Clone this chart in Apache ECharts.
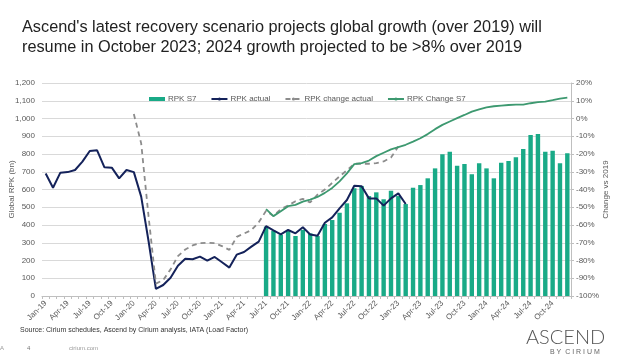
<!DOCTYPE html>
<html>
<head>
<meta charset="utf-8">
<script src="https://cdn.jsdelivr.net/npm/echarts@6/dist/echarts.min.js"></script>
<style>
html,body{margin:0;padding:0;background:#fff;}
#chart{width:624px;height:363px;}
</style>
</head>
<body>
<div id="chart"></div>
<script>
var months = ['Jan-19','Feb-19','Mar-19','Apr-19','May-19','Jun-19','Jul-19','Aug-19','Sep-19','Oct-19','Nov-19','Dec-19',
'Jan-20','Feb-20','Mar-20','Apr-20','May-20','Jun-20','Jul-20','Aug-20','Sep-20','Oct-20','Nov-20','Dec-20',
'Jan-21','Feb-21','Mar-21','Apr-21','May-21','Jun-21','Jul-21','Aug-21','Sep-21','Oct-21','Nov-21','Dec-21',
'Jan-22','Feb-22','Mar-22','Apr-22','May-22','Jun-22','Jul-22','Aug-22','Sep-22','Oct-22','Nov-22','Dec-22',
'Jan-23','Feb-23','Mar-23','Apr-23','May-23','Jun-23','Jul-23','Aug-23','Sep-23','Oct-23','Nov-23','Dec-23',
'Jan-24','Feb-24','Mar-24','Apr-24','May-24','Jun-24','Jul-24','Aug-24','Sep-24','Oct-24','Nov-24','Dec-24'];

// RPK actual (bn), Jan-19 .. Feb-23
var rpkActual = [690,610,695,698,710,757,817,821,725,723,663,710,
698,560,310,40,62,103,171,210,207,222,199,220,
190,160,233,248,278,306,394,370,347,372,353,387,
347,340,413,443,494,541,621,618,550,550,509,550,
578,518];

// RPK S7 scenario (bn), Jul-21 .. Dec-24
var rpkS7Start = 'Jul-21';
var rpkS7 = [391,368,345,368,338,373,353,338,406,428,469,522,
607,620,563,584,545,593,563,518,610,625,663,719,
798,813,734,744,686,748,719,663,751,761,781,828,
907,913,813,819,748,804];

// RPK change actual (% vs 2019), Jan-20 .. Jan-23
var changeActualStart = 'Jan-20';
var changeActual = [2.5,-14,-55,-93,-91,-85,-77.5,-73.8,-71.5,-70.2,-70,-70.2,
-71.9,-74,-66.7,-64.8,-62.9,-58.5,-52,-55,-51,-49,-46.6,-45.3,
-47.3,-42.9,-40,-36.3,-32.6,-29.2,-25.5,-25.5,-25.5,-25.1,-24.2,-22,
-15.8];

// RPK change S7 (% vs 2019), Jul-21 .. Dec-24
var changeS7Start = 'Jul-21';
var changeS7 = [-51,-55,-52.3,-49.4,-48.7,-46.8,-45.7,-44.2,-41.9,-39.1,-35.4,-30.9,
-25.7,-25.1,-23.7,-21.2,-19.3,-17.4,-16.1,-14.8,-13,-11.1,-8.8,-6,
-3.6,-1.7,0.2,2,3.9,5.2,6.3,6.9,7.3,7.6,7.8,7.8,
8.6,9.2,9.5,10.3,11.2,11.8];

function pad(start, arr){
  var out = [];
  var s = months.indexOf(start);
  for (var i = 0; i < s; i++) out.push(null);
  return out.concat(arr);
}

var FONT = 'Liberation Sans, Arial, sans-serif';
var chart = echarts.init(document.getElementById('chart'), null, {renderer:'canvas'});
chart.setOption({
  animation:false,
  backgroundColor:'#fff',
  title:{
    text:"Ascend's latest recovery scenario projects global growth (over 2019) will\nresume in October 2023; 2024 growth projected to be >8% over 2019",
    left:17, top:13,
    textStyle:{fontFamily:FONT, fontSize:16.3, fontWeight:'normal', color:'#222', lineHeight:20}
  },
  legend:{
    left:144, top:90,
    itemWidth:16, itemHeight:4, itemGap:14,
    textStyle:{fontFamily:FONT, fontSize:8, color:'#595959', padding:[0,0,0,-2]},
    data:[
      {name:'RPK S7', icon:'rect'},
      {name:'RPK actual'},
      {name:'RPK change actual'},
      {name:'RPK Change S7'}
    ]
  },
  grid:{left:42, right:53, top:83, bottom:67, containLabel:false, outerBoundsMode:'none'},
  xAxis:{
    type:'category', data:months, boundaryGap:true,
    axisLine:{lineStyle:{color:'#bfbfbf'}},
    axisTick:{show:true, interval:0, length:3, lineStyle:{color:'#bfbfbf'}},
    axisLabel:{interval:2, rotate:45, fontFamily:FONT, fontSize:8, color:'#595959', margin:6}
  },
  yAxis:[{
    type:'value', min:0, max:1200, interval:100,
    name:'Global RPK (bn)', nameLocation:'middle', nameGap:26, nameRotate:90, nameMoveOverlap:false,
    nameTextStyle:{fontFamily:FONT, fontSize:8, color:'#595959'},
    axisLine:{show:false}, axisTick:{show:false},
    axisLabel:{fontFamily:FONT, fontSize:8, color:'#595959', margin:7},
    splitLine:{lineStyle:{color:'#d9d9d9', width:1}}
  },{
    type:'value', min:-100, max:20, interval:10, position:'right',
    name:'Change vs 2019', nameLocation:'middle', nameGap:31, nameRotate:90, nameMoveOverlap:false,
    nameTextStyle:{fontFamily:FONT, fontSize:8, color:'#595959'},
    axisLine:{show:true, lineStyle:{color:'#bfbfbf'}},
    axisTick:{show:true, length:3, lineStyle:{color:'#bfbfbf'}},
    axisLabel:{formatter:'{value}%', fontFamily:FONT, fontSize:8, color:'#595959', margin:5},
    splitLine:{show:false}
  }],
  series:[{
    name:'RPK S7', type:'bar', yAxisIndex:0, data:pad(rpkS7Start, rpkS7),
    barWidth:'60%', itemStyle:{color:'#19aa87'}
  },{
    name:'RPK actual', type:'line', yAxisIndex:0, data:rpkActual,
    symbol:'none', showSymbol:false, lineStyle:{color:'#14225a', width:2}, itemStyle:{color:'#14225a'}
  },{
    name:'RPK change actual', type:'line', yAxisIndex:1, data:pad(changeActualStart, changeActual),
    symbol:'none', showSymbol:false, lineStyle:{color:'#8c8c8c', width:1.8, type:[5,4]}, itemStyle:{color:'#8c8c8c'}
  },{
    name:'RPK Change S7', type:'line', yAxisIndex:1, data:pad(changeS7Start, changeS7),
    symbol:'none', showSymbol:false, lineStyle:{color:'#3d9970', width:1.8}, itemStyle:{color:'#3d9970'}
  }],
  graphic:[
    {type:'text', left:20, top:327, style:{text:'Source: Cirium schedules, Ascend by Cirium analysis, IATA (Load Factor)', font:'7px Liberation Sans, Arial, sans-serif', fill:'#333'}},
    {type:'text', left:27, top:345, style:{text:'4', font:'6px Liberation Sans, Arial, sans-serif', fill:'#777'}},
    {type:'text', left:69, top:345, style:{text:'cirium.com', font:'6px Liberation Sans, Arial, sans-serif', fill:'#999'}},
    {type:'text', left:0, top:345, style:{text:'A', font:'6px Liberation Sans, Arial, sans-serif', fill:'#999'}},
    {type:'text', left:526, top:328, style:{text:'ASCEND', font:'300 20px Lato, Liberation Sans, Arial, sans-serif', fill:'#555'}},
    {type:'text', left:550, top:349, style:{text:'B Y  C I R I U M', font:'7px Liberation Sans, Arial, sans-serif', fill:'#666'}}
  ]
});
</script>
</body>
</html>
